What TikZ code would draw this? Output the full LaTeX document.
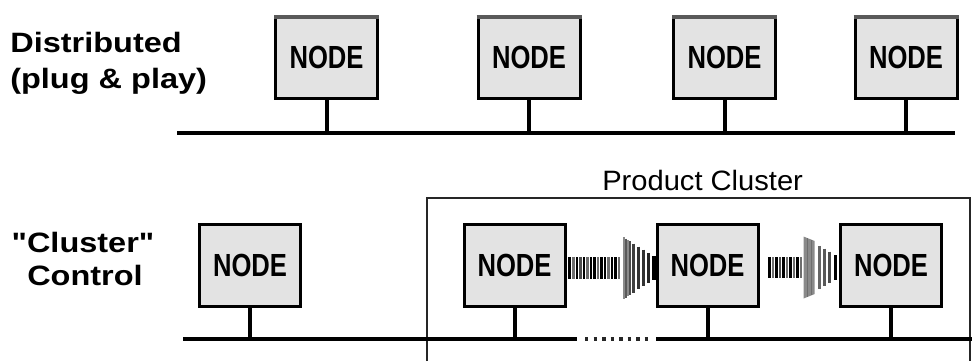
\documentclass[tikz,border=0pt]{standalone}
\usepackage{fontspec}
\setmainfont{Liberation Sans}[Ligatures=TeXOff]
\usetikzlibrary{calc}

\definecolor{boxfill}{HTML}{E3E3E3}
\definecolor{boxtop}{HTML}{5A5A5A}
\definecolor{stripegray}{HTML}{6E6E6E}
\definecolor{headgray}{HTML}{8A8A8A}

\tikzset{
  unitbox/.style={draw=black, fill=boxfill, line width=2.25pt, inner sep=0pt,
    minimum height=61.5pt,
    font=\fontsize{24}{24}\selectfont\bfseries, text depth=0pt},
  toprow/.style={unitbox, minimum width=76.5pt},
  botrow/.style={unitbox, minimum width=75.75pt},
  bus/.style={line width=3pt, black},
  stem/.style={line width=3pt, black},
  sidelabel/.style={font=\fontsize{21}{21}\selectfont\bfseries, inner sep=0pt, xscale=1.16},
  cluster/.style={line width=1.1pt, draw=black!85},
  dotted bus/.style={line width=2.6pt, black!85, dash pattern=on 2.6pt off 3.8pt},
}

% narrow letters inside the boxes
\newcommand{\boxlabel}{\scalebox{0.8}[1]{NODE}}

\begin{document}
\begin{tikzpicture}[x=0.75pt, y=-0.75pt]
\useasboundingbox (0,0) rectangle (972,361);

% ---------- distributed row ----------
\node[sidelabel, anchor=base west] (dist) at (10,52) {Distributed};
\node[sidelabel, anchor=base west] (plug) at (10,88) {(plug \& play)};

\node[toprow] (t1) at (326.5,57.5) {\boxlabel};
\node[toprow] (t2) at (529,57.5) {\boxlabel};
\node[toprow] (t3) at (724.5,57.5) {\boxlabel};
\node[toprow] (t4) at (906,57.5) {\boxlabel};

% darker top edge on the upper boxes
\foreach \n in {t1,t2,t3,t4}
  \draw[boxtop, line width=3pt] ($(\n.north west)+(0,1.5)$) -- ($(\n.north east)+(0,1.5)$);

\coordinate (tbl) at (177,133);
\coordinate (tbr) at (955,133);
\draw[bus] (tbl) -- (tbr);
\foreach \n in {t1,t2,t3,t4}
  \draw[stem] (\n.south) -- (\n.south |- tbl);

% ---------- cluster control row ----------
\node[sidelabel, anchor=base] (clu) at (83,252) {"Cluster"};
\node[sidelabel, anchor=base] (ctl) at (85,285) {Control};

\node[font=\fontsize{21}{21}\selectfont, inner sep=0pt, anchor=base west, xscale=1.04]
  (pc) at (602,190) {Product Cluster};
\coordinate (cbl) at (427,361);
\coordinate (ctr) at (970,198);
\coordinate (cbr) at (970,361);
\draw[cluster] (cbl) |- (ctr) -- (cbr);

\node[botrow] (b0) at (250,265.5) {\boxlabel};
\node[botrow] (ba) at (514.5,265.5) {\boxlabel};
\node[botrow] (bb) at (707.5,265.5) {\boxlabel};
\node[botrow] (bc) at (891,265.5) {\boxlabel};

\coordinate (bbl) at (183,339);
\coordinate (bm1) at (577,339);
\coordinate (bm2) at (656,339);
\coordinate (bbr) at (972,339);
\coordinate (dots1) at (585,339);
\coordinate (dots2) at (652,339);
\draw[bus] (bbl) -- (bm1);
\draw[dotted bus] (dots1) -- (dots2);
\draw[bus] (bm2) -- (bbr);
\foreach \n in {b0,ba,bb,bc}
  \draw[stem] (\n.south) -- (\n.south |- bbl);

% ---------- striped flow arrows ----------
% offset / half height / stroke width / colour, measured from the source box
\foreach \x/\h/\w/\c in {
    3/11/3/black, 7/11/2.5/stripegray, 10.5/11/2.5/black, 14/11/2.5/black!70,
    17.5/11/2.5/black, 21/11/2.5/stripegray, 24.5/11/2.5/black, 28/11/2.5/black,
    31.5/11/2.5/stripegray, 35/11/2.5/black, 38.5/11/2.5/black, 42/11/2.5/stripegray,
    45.5/11/2.5/black, 49/11/2.5/black, 52.5/11/2.5/stripegray,
    57.5/30.7/2.4/headgray, 59.5/29.5/2.4/black!65, 61.5/28.2/2.4/headgray,
    63.5/27/2/black!70, 67/24.5/2.5/black!75, 72/21.4/2.5/black!80,
    77/18.3/2.5/black!80, 82/15.2/2.5/black!85, 87/11.9/4/black}
  \draw[line width=\w*0.75pt, \c] ($(ba.east)+(\x,2.5-\h)$) -- ($(ba.east)+(\x,2.5+\h)$);

\fill[headgray] ($(bb.east)+(44,2-31)$) -- ($(bb.east)+(55,2-26.6)$)
  -- ($(bb.east)+(55,2+26.6)$) -- ($(bb.east)+(44,2+31)$) -- cycle;
\foreach \x/\h/\w/\c in {
    10/10.5/2.5/black, 13.5/10.5/2.5/stripegray, 17/10.5/2.5/black,
    20.5/10.5/2.5/black!70, 24/10.5/2.5/black, 27.5/10.5/2.5/stripegray,
    31/10.5/2.5/black, 34.5/10.5/2.5/stripegray, 38/10.5/2.5/black, 41.5/10.5/2.5/stripegray,
    48/29.5/1.2/headgray!80!black, 52/27.8/1.2/headgray!80!black,
    60/21.7/2.5/black!60, 65/18.8/2.5/black!65, 70/15.8/2.5/black!70, 76/12.3/3.5/black}
  \draw[line width=\w*0.75pt, \c] ($(bb.east)+(\x,2-\h)$) -- ($(bb.east)+(\x,2+\h)$);

\end{tikzpicture}
\end{document}
